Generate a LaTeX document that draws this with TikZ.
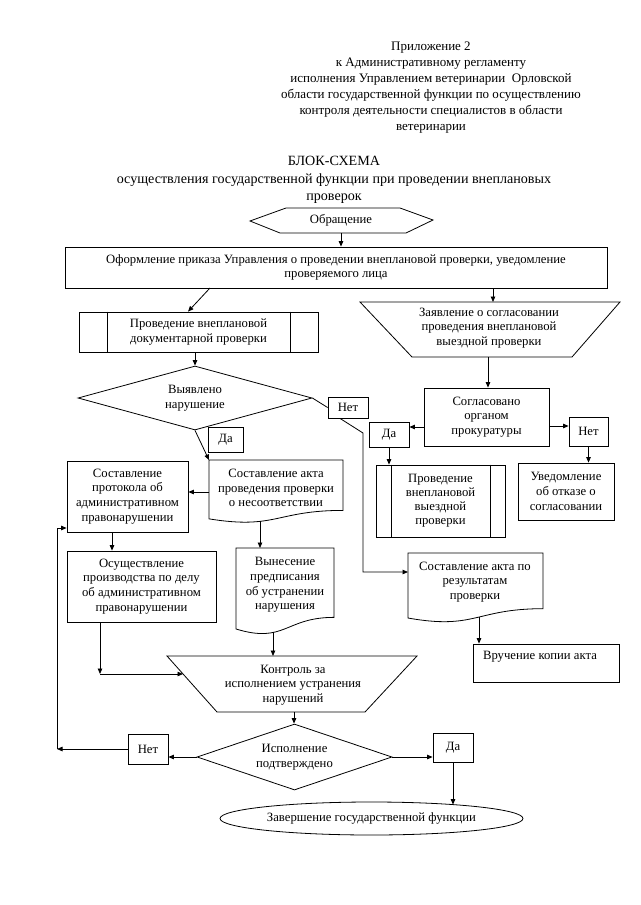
\documentclass[tikz,border=0pt]{standalone}
\usepackage{fontspec}
\setmainfont{Liberation Serif}
\usetikzlibrary{shapes.geometric,arrows.meta}
\newcommand{\myBody}{\fontsize{12.7}{14.7}\selectfont}
\newcommand{\myTight}{\fontsize{12.7}{14}\selectfont}
\newcommand{\myHdr}{\fontsize{13}{16}\selectfont}
\newcommand{\myTtl}{\fontsize{14.1}{17.5}\selectfont}
\newcommand{\mydoc}[4]{\draw[ln] (#1,#3) -- (#2,#3) -- (#2,{#3+0.8*#4}) .. controls ({(#1+#2)/2},{#3+0.8*#4}) and ({(#1+#2)/2},{#3+1.107*#4}) .. (#1,{#3+0.934*#4}) -- cycle;}
\begin{document}
\begin{tikzpicture}[x=1pt,y=-1pt,
  ln/.style={line width=0.8pt},
  arr/.style={line width=0.8pt,-{Triangle[length=5.5pt,width=4.5pt]}},
  box/.style={draw,line width=0.8pt,rectangle,inner sep=0pt,align=center,font=\myBody},
  lbl/.style={inner sep=0pt,align=center,font=\myBody},
  dia/.style={draw,line width=0.8pt,diamond,inner sep=0pt,align=center,font=\myBody}]
\useasboundingbox (0,0) rectangle (640,905);
\fill[white] (0,0) rectangle (640,905);

% header and title
\node[lbl,font=\myHdr] (hdr) at (431,87.5) {Приложение 2\\к Административному регламенту\\исполнения Управлением ветеринарии~ Орловской\\области государственной функции по осуществлению\\контроля деятельности специалистов в области\\ветеринарии};
\node[lbl,font=\myTtl] (ttl) at (334,180) {БЛОК-СХЕМА\\осуществления государственной функции при проведении внеплановых\\проверок};

% Обращение
\draw[ln] (250,221) -- (286,208) -- (400,208) -- (433,220) -- (406,233) -- (280,233) -- cycle;
\node[lbl] (obr) at (341,220.5) {Обращение};
\coordinate (obrS) at (341,233);

% main box
\node[box,minimum width=542pt,minimum height=41pt] (prikaz) at (336,267.5) {Оформление приказа Управления о проведении внеплановой проверки, уведомление\\проверяемого лица};
\draw[arr] (obrS) -- (obrS |- prikaz.north);

% documentary check
\node[box,minimum width=239pt,minimum height=40pt] (dok) at (198.5,332) {Проведение внеплановой\\документарной проверки};
\draw[ln] ([xshift=29pt]dok.north west) -- ([xshift=29pt]dok.south west);
\draw[ln] ([xshift=-28pt]dok.north east) -- ([xshift=-28pt]dok.south east);
\coordinate (prS1) at (210,288);
\draw[arr] (prS1) -- ([xshift=-10.5pt]dok.north);

% diamond 1
\node[dia,aspect=3.6,minimum width=234pt,minimum height=64pt] (dia1) at (195,398) {Выявлено\\нарушение};
\draw[arr] (dia1.north |- dok.south) -- (dia1.north);
\node[box,minimum width=35pt,minimum height=25pt] (da1) at (225.5,439.5) {Да};
\node[box,minimum width=40pt,minimum height=21pt] (net1) at (348,407.5) {Нет};

% act of non-conformity
\mydoc{209}{343}{460}{63}
\node[lbl] (akt) at (276,488) {Составление акта\\проведения проверки\\о несоответствии};
\coordinate (aktNW) at (209,460);
\draw[arr] (dia1.south) -- (aktNW);

% Нет branch
\coordinate (c1) at (363,433);
\coordinate (c2) at (363,572);
\coordinate (akt2W) at (408,572);
\draw[ln] (dia1.east) -- (net1.west);
\draw[arr] ([xshift=-8pt]net1.south) -- (c1) -- (c2) -- (akt2W);

% application trapezoid
\draw[ln] (360,302) -- (620,302) -- (572,357) -- (412,357) -- cycle;
\node[lbl] (zay) at (489,328) {Заявление о согласовании\\проведения внеплановой\\выездной проверки};
\coordinate (zayN) at (493,302);
\coordinate (zayS) at (488,357);
\draw[arr] (zayN |- prikaz.south) -- (zayN);

% prosecutor
\node[box,minimum width=125pt,minimum height=58pt] (sogl) at (486.5,417) {Согласовано\\органом\\прокуратуры};
\draw[arr] (zayS) -- (zayS |- sogl.north);
\node[box,minimum width=40pt,minimum height=25pt] (da2) at (389,434.5) {Да};
\node[box,minimum width=39pt,minimum height=29pt] (net2) at (588.5,431.5) {Нет};
\draw[arr] ([yshift=-10pt]sogl.west) -- ([yshift=-10pt]sogl.west -| da2.east);
\draw[arr] ([yshift=-9pt]sogl.east) -- ([yshift=-9pt]sogl.east -| net2.west);

% field check
\node[box,font=\myTight,minimum width=129pt,minimum height=72pt] (vyezd) at (440.5,501) {Проведение\\внеплановой\\выездной\\проверки};
\draw[ln] ([xshift=16pt]vyezd.north west) -- ([xshift=16pt]vyezd.south west);
\draw[ln] ([xshift=-15pt]vyezd.north east) -- ([xshift=-15pt]vyezd.south east);
\draw[arr] (da2.south) -- (da2.south |- vyezd.north);

\node[box,minimum width=96pt,minimum height=57pt] (uved) at (566,491.5) {Уведомление\\об отказе о\\согласовании};
\draw[arr] (net2.south) -- (net2.south |- uved.north);

% protocol
\node[box,minimum width=121pt,minimum height=71pt] (prot) at (127.5,496.5) {Составление\\протокола об\\административном\\правонарушении};
\coordinate (aktW) at (209,492);
\draw[arr] (aktW) -- (aktW -| prot.east);

% prescription
\mydoc{236}{334}{548}{86.7}
\node[lbl] (vyn) at (285,585) {Вынесение\\предписания\\об устранении\\нарушения};
\coordinate (aktS) at (260,521.3);
\coordinate (vynN) at (260,548);
\draw[arr] (aktS) -- (vynN);

\node[box,minimum width=149pt,minimum height=71pt] (osu) at (141.5,586.5) {Осуществление\\производства по делу\\об административном\\правонарушении};
\draw[arr] ([xshift=-15.5pt]prot.south) -- ([xshift=-15.5pt]prot.south |- osu.north);

% control trapezoid
\draw[ln] (167,656) -- (417,656) -- (365,712) -- (217,712) -- cycle;
\node[lbl] (kon) at (293,685) {Контроль за\\исполнением устранения\\нарушений};
\coordinate (vynS) at (273,632.4);
\coordinate (konN) at (273,656);
\draw[arr] (vynS) -- (konN);
\coordinate (osuC) at (100,674);
\coordinate (konW) at (183,674);
\draw[arr] ([xshift=-41.5pt]osu.south) -- (osuC);
\draw[arr] (osuC) -- (konW);
\coordinate (konS) at (294,712);

% diamond 2
\node[dia,aspect=2.95,minimum width=195pt,minimum height=66pt] (dia2) at (294.5,757) {Исполнение\\подтверждено};
\draw[arr] (konS) -- (konS |- dia2.north);
\node[box,minimum width=40pt,minimum height=30pt] (net3) at (148,749) {Нет};
\draw[arr] (dia2.west) -- (dia2.west -| net3.east);
\coordinate (lpB) at (57,749);
\coordinate (lpT) at (57,528);
\draw[arr] (net3.west) -- (lpB);
\draw[ln] (lpB) -- (lpT);
\draw[arr] (lpT) -- (lpT -| prot.west);

\node[box,minimum width=40pt,minimum height=29pt] (da3) at (453,747.5) {Да};
\draw[arr] (dia2.east) -- (dia2.east -| da3.west);
\node[draw,ln,ellipse,minimum width=303pt,minimum height=33pt,inner sep=0pt,font=\myBody] (zav) at (371.5,818.5) {Завершение государственной функции};
\coordinate (zavT) at (453,804.6);
\draw[arr] (da3.south) -- (zavT);

% act by results
\mydoc{408}{543}{553}{69.6}
\node[lbl] (akt2) at (475,582) {Составление акта по\\результатам\\проверки};
\coordinate (akt2S) at (479,617.2);
\node[draw,ln,minimum width=146pt,minimum height=38pt,inner sep=0pt] (vru) at (546,663) {};
\node[lbl] (vrut) at (540,657) {Вручение копии акта};
\draw[arr] (akt2S) -- (akt2S |- vru.north);
\end{tikzpicture}
\end{document}
